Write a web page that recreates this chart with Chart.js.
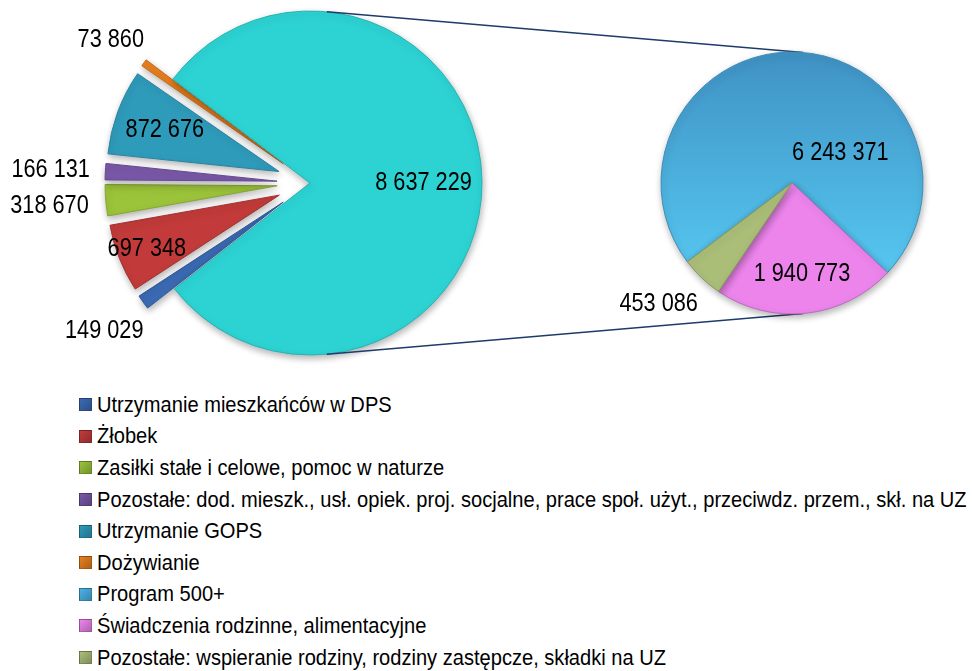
<!DOCTYPE html>
<html lang="pl">
<head>
<meta charset="utf-8">
<title>Wydatki</title>
<script src="https://cdn.jsdelivr.net/npm/chart.js@4.4.1/dist/chart.umd.min.js"></script>
<style>
  html, body { margin: 0; padding: 0; background: #fff; }
  #wrap { position: relative; width: 972px; height: 671px; overflow: hidden; }
  #wrap canvas { position: absolute; left: 0; top: 0; }
  #legend {
    position: absolute; left: 79px; top: 389px; margin: 0; padding: 0; list-style: none;
    font-family: "Liberation Sans", Arial, sans-serif;
    font-size: 22px; color: #000;
  }
  #legend li { height: 31.6px; display: flex; align-items: center; white-space: nowrap; }
  #legend .box { width: 13px; height: 13px; margin-right: 5px; box-sizing: border-box;
    border: 1px solid rgba(0,0,0,0.25); flex: none; }
  #legend .txt { display: inline-block; transform: scaleX(0.913); transform-origin: 0 50%; }
</style>
</head>
<body>
<div id="wrap">
  <canvas id="mainPie" width="972" height="372"></canvas>
  <canvas id="subPie" width="972" height="372"></canvas>
  <ul id="legend"></ul>
</div>
<script>
// ------------------------------------------------------------
// Data
// ------------------------------------------------------------
var mainLabels = [
  "Utrzymanie mieszkańców w DPS",
  "Żłobek",
  "Zasiłki stałe i celowe, pomoc w naturze",
  "Pozostałe: dod. mieszk., usł. opiek. proj. socjalne, prace społ. użyt., przeciwdz. przem., skł. na UZ",
  "Utrzymanie GOPS",
  "Dożywianie"
];
var mainValues = [149029, 697348, 318670, 166131, 872676, 73860];
var otherLabel = "Pozostałe (rodzina)";
var otherValue = 8637229;

var subLabels = [
  "Program 500+",
  "Świadczenia rodzinne, alimentacyjne",
  "Pozostałe: wspieranie rodziny, rodziny zastępcze, składki na UZ"
];
var subValues = [6243371, 1940773, 453086];

// ------------------------------------------------------------
// Styles
// ------------------------------------------------------------
var mainColors = ["#3b6bb4", "#c23b3a", "#9cc43a", "#7a58a9", "#2f9bbb", "#e8801f"];
var otherColor = "#2dd3d3";
var subColors = ["#4cb2e4", "#ec84ec", "#abbe78"];
var explodeDist = 33;   // px, small slices pulled out of the big pie
var labelFont = '26px "Liberation Sans", Arial, sans-serif';
var labelSqueeze = 0.835;
// label distance from centre (x radius); angle override in degrees (null = slice middle)
var mainLabelRadius = [1.47, 1.02, 1.52, 1.51, 0.90, 1.43, 0.66];
var subLabelRadius = [0.44, 0.69, 1.37];
var subLabelAngle = [-33, null, 138];

function fmt(v) {
  return String(v).replace(/\B(?=(\d{3})+(?!\d))/g, " ");
}

function darker(hex, k) {
  var n = parseInt(hex.slice(1), 16);
  var r = Math.round(((n >> 16) & 255) * k), g = Math.round(((n >> 8) & 255) * k), b = Math.round((n & 255) * k);
  return "rgb(" + r + "," + g + "," + b + ")";
}

// ------------------------------------------------------------
// Plugins
// ------------------------------------------------------------
// move the small slices out along their middle angle (same radius)
var explode = {
  id: "explode",
  afterDatasetUpdate: function (chart, args, opts) {
    var d = opts.dist || [];
    args.meta.data.forEach(function (arc, i) {
      if (!d[i]) return;
      var a = (arc.startAngle + arc.endAngle) / 2;
      arc.x += Math.cos(a) * d[i];
      arc.y += Math.sin(a) * d[i];
    });
  }
};

var shadow = {
  id: "shadow",
  beforeDatasetDraw: function (chart) {
    var ctx = chart.ctx;
    ctx.save();
    ctx.shadowColor = "rgba(0,0,0,0.30)";
    ctx.shadowBlur = 7;
    ctx.shadowOffsetX = 1;
    ctx.shadowOffsetY = 3;
  },
  afterDatasetDraw: function (chart) {
    chart.ctx.restore();
  }
};

function pieCentre(chart) {
  var a = chart.chartArea;
  return { x: (a.left + a.right) / 2, y: (a.top + a.bottom) / 2, r: chart.config.options.radius };
}

var valueLabels = {
  id: "valueLabels",
  afterDatasetsDraw: function (chart, args, opts) {
    var ctx = chart.ctx;
    var meta = chart.getDatasetMeta(0);
    var values = chart.data.datasets[0].data;
    var c = pieCentre(chart);
    ctx.save();
    ctx.font = labelFont;
    ctx.fillStyle = "#000";
    ctx.textAlign = "center";
    ctx.textBaseline = "middle";
    meta.data.forEach(function (arc, i) {
      var a = (arc.startAngle + arc.endAngle) / 2;
      if (opts.angles && opts.angles[i] != null) a = opts.angles[i] * Math.PI / 180;
      var r = opts.radius[i] * c.r;
      ctx.save();
      ctx.translate(c.x + Math.cos(a) * r, c.y + Math.sin(a) * r);
      ctx.scale(labelSqueeze, 1);
      ctx.fillText(fmt(values[i]), 0, 1);
      ctx.restore();
    });
    ctx.restore();
  }
};

// lines joining the big pie with the second pie
var connectors = {
  id: "connectors",
  beforeDatasetsDraw: function (chart) {
    var left = Chart.getChart("mainPie");
    if (!left) return;
    var p1 = pieCentre(left), p2 = pieCentre(chart);
    var a1 = 5.6 * Math.PI / 180, a2 = 4.9 * Math.PI / 180;
    var ctx = chart.ctx;
    ctx.save();
    ctx.strokeStyle = "#1d3b6b";
    ctx.lineWidth = 1.6;
    [-1, 1].forEach(function (s) {
      ctx.beginPath();
      ctx.moveTo(p1.x + Math.sin(a1) * p1.r, p1.y + s * Math.cos(a1) * p1.r);
      ctx.lineTo(p2.x + Math.sin(a2) * p2.r, p2.y + s * Math.cos(a2) * p2.r);
      ctx.stroke();
    });
    ctx.restore();
  }
};

// ------------------------------------------------------------
// Main pie
// ------------------------------------------------------------
var mainData = mainValues.concat([otherValue]);
var mainFill = mainColors.concat([otherColor]);
new Chart(document.getElementById("mainPie"), {
  type: "pie",
  data: {
    labels: mainLabels.concat([otherLabel]),
    datasets: [{
      data: mainData,
      backgroundColor: mainFill,
      borderColor: mainFill.map(function (c) { return darker(c, 0.85); }),
      borderWidth: 1
    }]
  },
  options: {
    responsive: false,
    animation: false,
    events: [],
    rotation: 232,
    radius: 172,
    layout: { padding: { left: 0, right: 352, top: 0, bottom: 6 } },
    plugins: {
      legend: { display: false },
      tooltip: { enabled: false },
      explode: { dist: mainValues.map(function () { return explodeDist; }).concat([0]) },
      valueLabels: { radius: mainLabelRadius }
    }
  },
  plugins: [explode, shadow, valueLabels]
});

// ------------------------------------------------------------
// Second pie
// ------------------------------------------------------------
new Chart(document.getElementById("subPie"), {
  type: "pie",
  data: {
    labels: subLabels,
    datasets: [{
      data: subValues,
      backgroundColor: function (c) {
        var area = c.chart.chartArea;
        if (!area || c.dataIndex !== 0) return subColors[c.dataIndex];
        var cy = (area.top + area.bottom) / 2, r = c.chart.config.options.radius;
        var g = c.chart.ctx.createLinearGradient(0, cy - r, 0, cy + r);
        g.addColorStop(0, "#3f92c4");
        g.addColorStop(1, "#5ad0f8");
        return g;
      },
      borderColor: subColors.map(function (c) { return darker(c, 0.8); }),
      borderWidth: 1
    }]
  },
  options: {
    responsive: false,
    animation: false,
    events: [],
    rotation: 233,
    radius: 131,
    layout: { padding: { left: 612, right: 0, top: 0, bottom: 6 } },
    plugins: {
      legend: { display: false },
      tooltip: { enabled: false },
      valueLabels: { radius: subLabelRadius, angles: subLabelAngle }
    }
  },
  plugins: [connectors, shadow, valueLabels]
});

// ------------------------------------------------------------
// Legend
// ------------------------------------------------------------
var legend = document.getElementById("legend");
var legendColors = mainColors.concat(subColors);
mainLabels.concat(subLabels).forEach(function (t, i) {
  var col = legendColors[i];
  var li = document.createElement("li");
  var box = document.createElement("span");
  box.className = "box";
  box.style.background = "linear-gradient(135deg," + darker(col, 1.0) + " 0%," + darker(col, 0.75) + " 100%)";
  var txt = document.createElement("span");
  txt.className = "txt";
  txt.textContent = t;
  li.appendChild(box);
  li.appendChild(txt);
  legend.appendChild(li);
});
</script>
</body>
</html>
